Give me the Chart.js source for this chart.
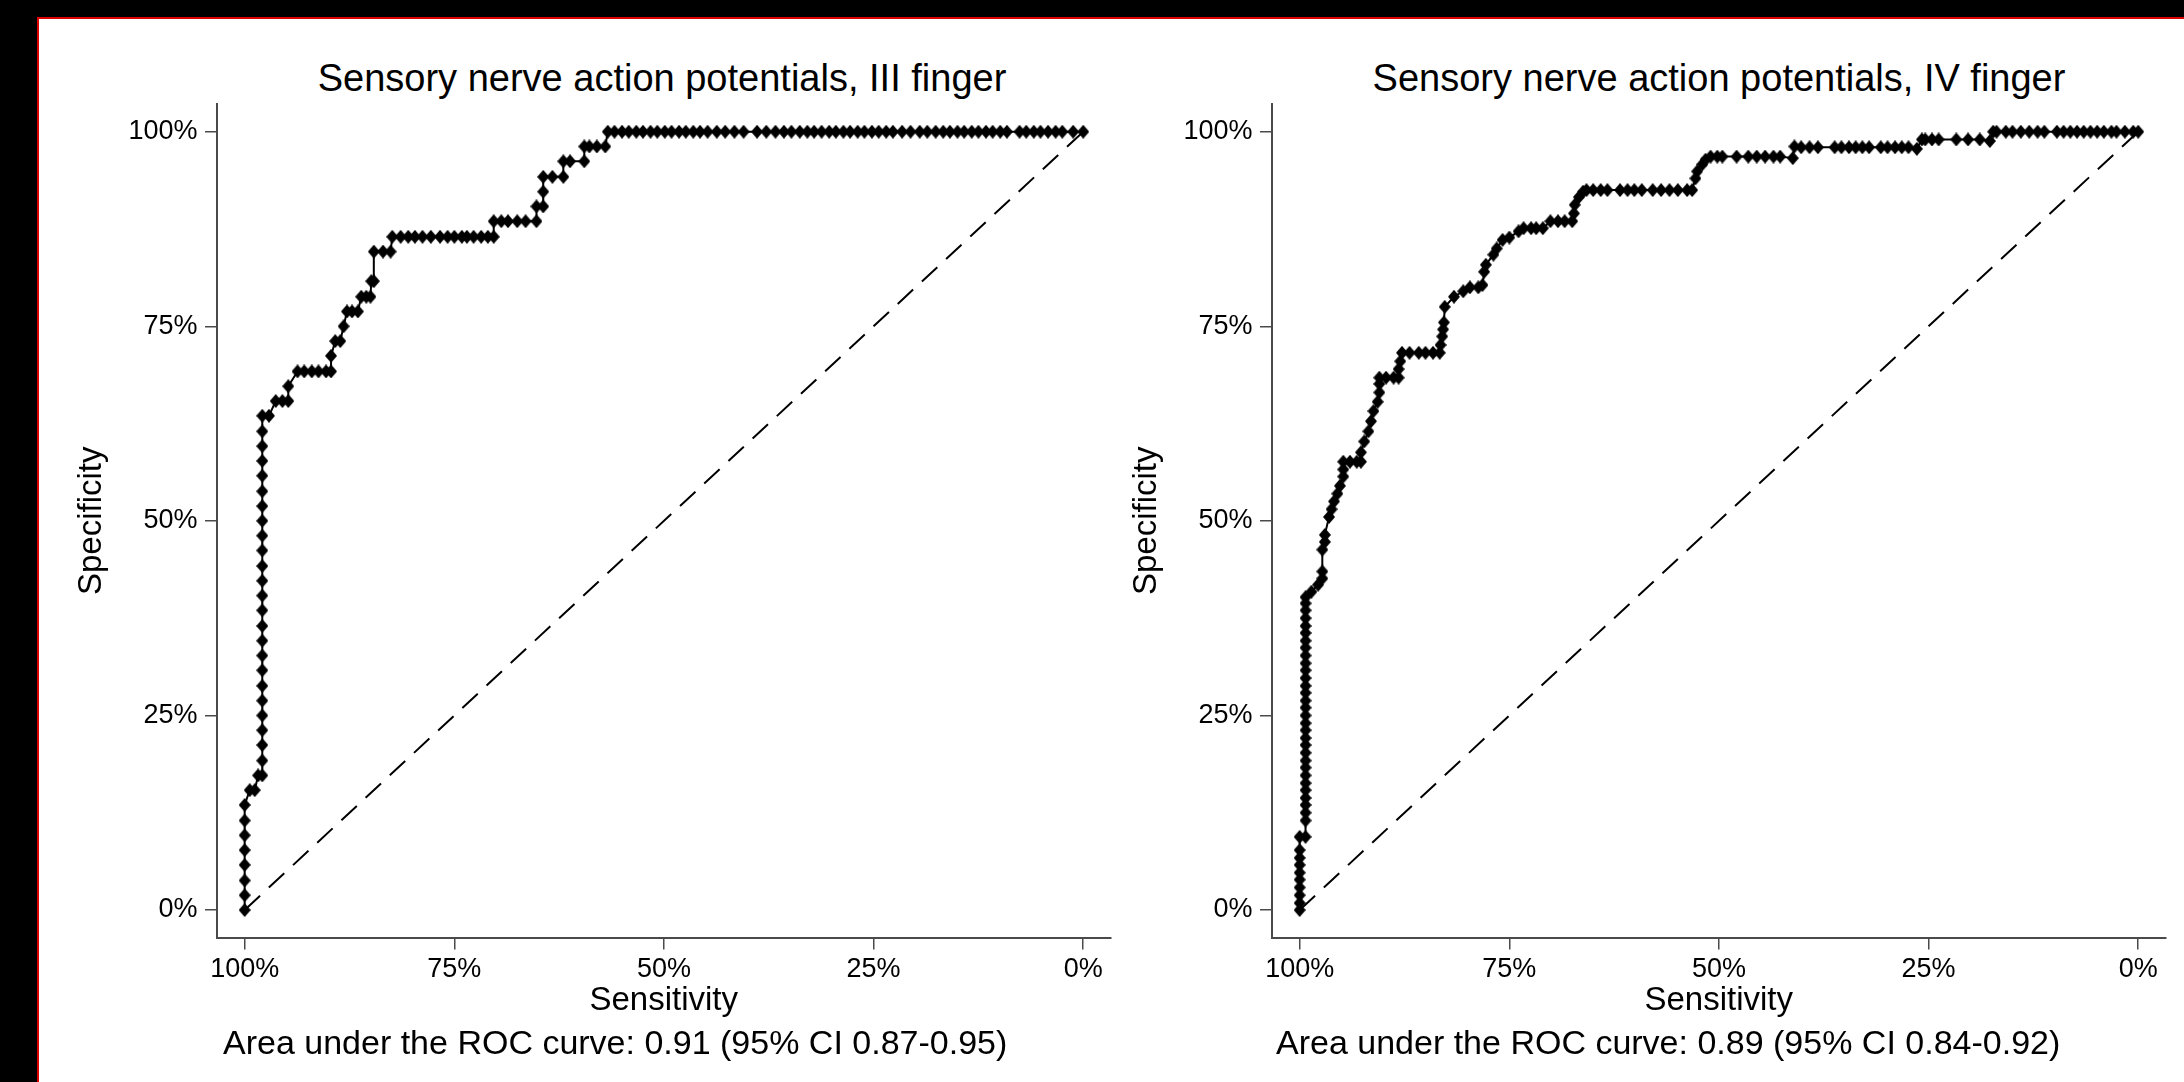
<!DOCTYPE html>
<html>
<head>
<meta charset="utf-8">
<title>ROC curves</title>
<script src="https://cdn.jsdelivr.net/npm/chart.js@4.4.1/dist/chart.umd.min.js"></script>
<style>
    body {
        margin: 0;
        width: 2184px;
        height: 1082px;
        overflow: hidden;
        background: #000;
        font-family: "Liberation Sans", Arial, sans-serif;
    }
    #frame {
        position: absolute;
        left: 37px;
        top: 17px;
        right: 0;
        bottom: 0;
        background: #fff;
        border-top: 2px solid #e00000;
        border-left: 2px solid #e00000;
    }
    .panel {
        position: absolute;
        top: 96px;
    }
    .title {
        position: absolute;
        top: 59px;
        font-size: 38px;
        line-height: 38px;
        white-space: nowrap;
        transform: translateX(-50%);
        color: #000;
    }
    .note {
        position: absolute;
        top: 1025px;
        font-size: 34px;
        line-height: 34px;
        white-space: nowrap;
        color: #000;
    }
</style>
</head>
<body>
<div id="frame"></div>

<div class="title" style="left:662px">Sensory nerve action potentials, III finger</div>
<div class="title" style="left:1719px">Sensory nerve action potentials, IV finger</div>

<canvas id="rocIII" class="panel" style="left:40px" width="1089" height="930"></canvas>
<canvas id="rocIV" class="panel" style="left:1095px" width="1089" height="930"></canvas>

<div class="note" style="left:223px">Area under the ROC curve: 0.91 (95% CI 0.87-0.95)</div>
<div class="note" style="left:1276px">Area under the ROC curve: 0.89 (95% CI 0.84-0.92)</div>

<script>
/*  Data: [sensitivity %, specificity %]  */
const rocIII = [
    [100, 0], [100, 1.9], [100, 3.8], [100, 5.8], [100, 7.7], [100, 9.6], [100, 11.5], [100, 13.5],
    [99.4, 15.4], [98.8, 15.4], [98.4, 17.3], [97.9, 17.3],
    [97.9, 19.2], [97.9, 21.2], [97.9, 23.1], [97.9, 25.0], [97.9, 26.9], [97.9, 28.8], [97.9, 30.8],
    [97.9, 32.7], [97.9, 34.6], [97.9, 36.5], [97.9, 38.5], [97.9, 40.4], [97.9, 42.3], [97.9, 44.2],
    [97.9, 46.2], [97.9, 48.1], [97.9, 50.0], [97.9, 51.9], [97.9, 53.8], [97.9, 55.8], [97.9, 57.7],
    [97.9, 59.6], [97.9, 61.5], [97.9, 63.5], [97.1, 63.5],
    [96.3, 65.4], [95.5, 65.4], [94.8, 65.4], [94.8, 67.3],
    [93.7, 69.2], [92.9, 69.2], [92.0, 69.2], [91.2, 69.2], [90.3, 69.2], [89.7, 69.2],
    [89.7, 71.2], [89.2, 73.1], [88.6, 73.1], [88.2, 75.0],
    [87.8, 76.9], [87.2, 76.9], [86.5, 76.9], [86.1, 78.8], [85.5, 78.8], [85.0, 78.8],
    [84.9, 80.8], [84.6, 80.8], [84.6, 84.6], [83.5, 84.6], [82.6, 84.6],
    [82.4, 86.5], [81.4, 86.5], [80.5, 86.5], [79.7, 86.5], [78.8, 86.5], [77.8, 86.5], [76.7, 86.5],
    [75.8, 86.5], [75.0, 86.5], [74.1, 86.5], [73.5, 86.5], [72.7, 86.5], [71.8, 86.5], [71.0, 86.5],
    [70.3, 86.5],
    [70.3, 88.5], [69.4, 88.5], [68.6, 88.5], [67.5, 88.5], [66.5, 88.5], [65.2, 88.5],
    [65.2, 90.4], [64.4, 90.4], [64.4, 92.3], [64.4, 94.2], [63.3, 94.2], [62.0, 94.2],
    [62.0, 96.2], [61.2, 96.2], [59.5, 96.2],
    [59.5, 98.1], [58.9, 98.1], [58.0, 98.1], [57.0, 98.1],
    [56.7, 100], [55.9, 100], [55.0, 100], [54.2, 100], [53.3, 100], [52.5, 100], [51.6, 100],
    [50.8, 100], [49.9, 100], [49.1, 100], [48.2, 100], [47.4, 100], [46.5, 100], [45.7, 100],
    [44.8, 100], [43.7, 100], [42.7, 100], [41.6, 100], [40.5, 100], [38.9, 100], [37.8, 100],
    [36.7, 100], [35.7, 100], [34.8, 100], [33.8, 100], [32.9, 100], [32.1, 100], [31.2, 100],
    [30.3, 100], [29.5, 100], [28.6, 100], [27.8, 100], [26.9, 100], [26.1, 100], [25.2, 100],
    [24.4, 100], [23.5, 100], [22.7, 100], [21.6, 100], [20.6, 100], [19.5, 100], [18.6, 100],
    [17.6, 100], [16.7, 100], [15.9, 100], [15.0, 100], [14.2, 100], [13.3, 100], [12.5, 100],
    [11.6, 100], [10.8, 100], [9.9, 100], [9.1, 100], [7.6, 100], [6.8, 100], [5.9, 100],
    [5.1, 100], [4.2, 100], [3.3, 100], [2.5, 100], [1.2, 100], [0, 100]
];

const rocIV = [
    [100, 0], [100, 0.9], [100, 1.9], [100, 2.9], [100, 3.9], [100, 4.8], [100, 5.8], [100, 6.7],
    [100, 7.7], [100, 9.4], [99.3, 9.4],
    [99.3, 11.5], [99.3, 12.5], [99.3, 13.5], [99.3, 14.4], [99.3, 15.4], [99.3, 16.3], [99.3, 17.3],
    [99.3, 18.3], [99.3, 19.2], [99.3, 20.2], [99.3, 21.2], [99.3, 22.1], [99.3, 23.1], [99.3, 24.0],
    [99.3, 25.0], [99.3, 26.0], [99.3, 26.9], [99.3, 27.9], [99.3, 28.8], [99.3, 29.8], [99.3, 30.8],
    [99.3, 31.7], [99.3, 32.7], [99.3, 33.7], [99.3, 34.6], [99.3, 35.6], [99.3, 36.5], [99.3, 37.5],
    [99.3, 38.5], [99.3, 39.4], [99.3, 40.2],
    [98.6, 40.9], [97.8, 41.8], [97.3, 42.6], [97.3, 43.5], [97.3, 46.3], [97.0, 47.3], [97.0, 48.2],
    [96.5, 50.5], [96.2, 51.5], [95.9, 52.5], [95.5, 53.5], [95.2, 54.5], [94.8, 55.7], [94.8, 56.6],
    [94.8, 57.6], [94.0, 57.6], [93.2, 57.6], [92.7, 57.6],
    [92.7, 58.8], [92.3, 60.2], [91.8, 61.5], [91.5, 62.8], [91.2, 64.1], [90.7, 65.3], [90.5, 66.5],
    [90.5, 67.6], [90.5, 68.4], [89.7, 68.4], [88.8, 68.4], [88.2, 68.4], [88.2, 69.5], [88.0, 70.5],
    [87.8, 71.6], [86.9, 71.6], [85.8, 71.6], [85.0, 71.6], [84.1, 71.6], [83.3, 71.6],
    [83.2, 72.6], [83.0, 73.7], [82.9, 74.6], [82.8, 75.5], [82.7, 77.5],
    [81.6, 78.8], [80.5, 79.5], [79.7, 80.0], [78.7, 80.0], [78.2, 80.3],
    [78.0, 82.0], [77.8, 82.9], [76.9, 84.2], [76.5, 85.0], [75.8, 86.1], [75.0, 86.4],
    [73.9, 87.2], [73.3, 87.6], [72.4, 87.6], [71.8, 87.6], [71.0, 87.6],
    [70.1, 88.5], [69.2, 88.5], [68.4, 88.5], [67.5, 88.5],
    [67.3, 89.5], [67.2, 90.6], [66.7, 91.6], [66.2, 92.3],
    [65.8, 92.5], [65.0, 92.5], [64.1, 92.5], [63.3, 92.5], [61.8, 92.5], [60.9, 92.5], [60.1, 92.5],
    [59.2, 92.5], [57.9, 92.5], [56.9, 92.5], [55.9, 92.5], [54.9, 92.5], [53.8, 92.5], [53.2, 92.5],
    [52.8, 94.0], [52.6, 94.9], [52.0, 95.8], [51.6, 96.4],
    [51.0, 96.8], [50.2, 96.8], [49.6, 96.8], [47.9, 96.8], [46.5, 96.8], [45.5, 96.8], [44.5, 96.8],
    [43.5, 96.8], [42.7, 96.8], [41.2, 96.6],
    [41.0, 98.1], [40.2, 98.0], [39.2, 98.0], [38.2, 98.0], [36.2, 98.0], [35.4, 98.0], [34.5, 98.0],
    [33.7, 98.0], [32.9, 98.0], [32.1, 98.0], [30.7, 98.0], [29.9, 98.0], [29.0, 98.0], [28.2, 98.0],
    [27.4, 98.0], [26.4, 97.8],
    [25.8, 99.0], [25.4, 99.0], [24.6, 99.0], [23.8, 99.0], [21.7, 99.0], [20.3, 99.0], [18.9, 99.0],
    [17.7, 98.8],
    [17.3, 100], [16.9, 100], [15.8, 100], [15.0, 100], [14.0, 100], [13.0, 100], [12.0, 100],
    [11.2, 100], [9.7, 100], [8.9, 100], [8.1, 100], [7.3, 100], [6.5, 100], [5.7, 100],
    [4.9, 100], [4.1, 100], [3.2, 100], [2.6, 100], [1.6, 100], [0.6, 100], [0, 100]
];

/* chance line and axis ticks */
const chanceLine = [[100, 0], [0, 100]];
const tickValues = [0, 25, 50, 75, 100];

const FONT = "'Liberation Sans', Arial, sans-serif";
const AXIS_GREY = "#4a4a4a";

/* Stata-like diamond marker, a bit taller than wide */
function diamondMarker(w, h) {
    const c = document.createElement("canvas");
    c.width = w;
    c.height = h;
    const ctx = c.getContext("2d");
    ctx.fillStyle = "#000";
    ctx.beginPath();
    ctx.moveTo(w / 2, 0);
    ctx.lineTo(w, h / 2);
    ctx.lineTo(w / 2, h);
    ctx.lineTo(0, h / 2);
    ctx.closePath();
    ctx.fill();
    return c;
}

const marker = diamondMarker(12, 14);

function toXY(pairs) {
    return pairs.map(p => ({ x: p[0], y: p[1] }));
}

function setTicks(scale) {
    scale.ticks = tickValues.map(v => ({ value: v }));
}

function renderRoc(id, points) {
    new Chart(document.getElementById(id), {
        type: "scatter",
        data: {
            datasets: [
                {
                    data: toXY(points),
                    showLine: true,
                    borderColor: "#000",
                    borderWidth: 2,
                    backgroundColor: "#000",
                    pointStyle: marker,
                    pointRadius: 6
                },
                {
                    data: toXY(chanceLine),
                    showLine: true,
                    borderColor: "#000",
                    borderWidth: 2,
                    borderDash: [21, 12],
                    pointRadius: 0
                }
            ]
        },
        options: {
            responsive: false,
            animation: false,
            layout: { padding: { top: 8, right: 18.5, bottom: 0, left: 0 } },
            plugins: {
                legend: { display: false },
                tooltip: { enabled: false }
            },
            scales: {
                x: {
                    type: "linear",
                    reverse: true,
                    min: -3.25,
                    max: 103.3,
                    afterBuildTicks: setTicks,
                    afterFit: s => {
                        s.height = 88.5;
                        s.paddingLeft = 0;
                        s.paddingRight = 0;
                    },
                    ticks: {
                        callback: v => v + "%",
                        color: "#000",
                        font: { size: 27, family: FONT },
                        padding: 4.3,
                        maxRotation: 0,
                        autoSkip: false
                    },
                    grid: { drawOnChartArea: false, tickLength: 12, color: AXIS_GREY, lineWidth: 1.5 },
                    border: { color: AXIS_GREY, width: 2 },
                    title: {
                        display: true,
                        text: "Sensitivity",
                        color: "#000",
                        font: { size: 33, family: FONT },
                        padding: { top: 0, bottom: 5 }
                    }
                },
                y: {
                    type: "linear",
                    min: -3.53,
                    max: 103.56,
                    afterBuildTicks: setTicks,
                    afterFit: s => {
                        s.width = 177;
                        s.paddingTop = 0;
                        s.paddingBottom = 0;
                    },
                    ticks: {
                        callback: v => v + "%",
                        color: "#000",
                        font: { size: 27, family: FONT },
                        padding: 7.5,
                        autoSkip: false
                    },
                    grid: { drawOnChartArea: false, tickLength: 12, color: AXIS_GREY, lineWidth: 1.5 },
                    border: { color: AXIS_GREY, width: 2 },
                    title: {
                        display: true,
                        text: "Specificity",
                        color: "#000",
                        font: { size: 33, family: FONT },
                        padding: { top: 32, bottom: 0 }
                    }
                }
            }
        }
    });
}

renderRoc("rocIII", rocIII);
renderRoc("rocIV", rocIV);
</script>
</body>
</html>
